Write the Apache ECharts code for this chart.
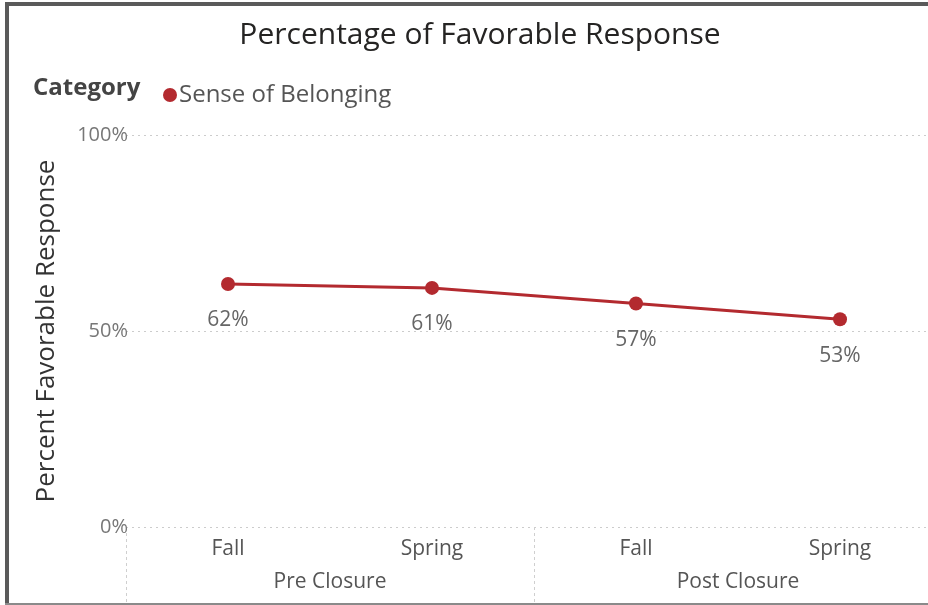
<!DOCTYPE html>
<html><head><meta charset="utf-8">
<script src="https://cdn.jsdelivr.net/npm/echarts@6/dist/echarts.min.js"></script>
<style>html,body{margin:0;padding:0;background:#fff}#c{width:928px;height:605px}</style>
</head><body><div id="c"></div>
<script>
const terms = ['Fall', 'Spring', 'Fall', 'Spring'];
const periods = ['Pre Closure', 'Post Closure'];
const seriesName = 'Sense of Belonging';
const values = [62, 61, 57, 53];
const yMin = 0, yMax = 100, yStep = 50;

const FONT = '"Open Sans", "Noto Sans", sans-serif';
const chart = echarts.init(document.getElementById('c'), null, {renderer: 'canvas'});
const catIds = terms.map((t, i) => String(i));

chart.setOption({
  backgroundColor: '#ffffff',
  animation: false,
  title: {
    text: 'Percentage of Favorable Response',
    left: 475, top: 15, textAlign: 'center',
    textStyle: {fontFamily: FONT, fontSize: 30, fontWeight: 'normal', color: '#252423'}
  },
  legend: {
    left: 158, top: 78, icon: 'circle', itemWidth: 14, itemHeight: 14, itemGap: 10,
    data: [seriesName],
    textStyle: {fontFamily: FONT, fontSize: 24, color: '#555', padding: [0, 0, 0, -3]}
  },
  graphic: [
    {type: 'text', left: 33, top: 76, style: {text: 'Category', font: 'bold 24px ' + FONT, fill: '#444'}},
    {type: 'rect', shape: {x: 5, y: 2, width: 923, height: 4}, style: {fill: '#5a5a5a'}},
    {type: 'rect', shape: {x: 5, y: 2, width: 4, height: 603}, style: {fill: '#5a5a5a'}},
    {type: 'rect', shape: {x: 5, y: 603, width: 923, height: 2}, style: {fill: '#8a8a8a'}}
  ],
  grid: {left: 126, top: 135, width: 816, height: 392, containLabel: false, outerBoundsMode: 'none'},
  xAxis: [
    {
      type: 'category', data: catIds, boundaryGap: true,
      axisLine: {show: false}, axisTick: {show: false},
      axisLabel: {formatter: v => terms[+v], margin: 12, fontFamily: FONT, fontSize: 21, color: '#555'}
    },
    {
      type: 'category', data: periods, position: 'bottom', offset: 0, boundaryGap: true,
      axisLine: {show: false},
      axisTick: {show: true, interval: 0, length: 78, lineStyle: {type: [3, 3], color: '#cfcfcf', width: 1}},
      axisLabel: {margin: 45, fontFamily: FONT, fontSize: 21, color: '#555'}
    }
  ],
  yAxis: {
    type: 'value', min: yMin, max: yMax, interval: yStep,
    name: 'Percent Favorable Response', nameLocation: 'middle', nameGap: 66,
    nameTextStyle: {fontFamily: FONT, fontSize: 26, color: '#333'},
    axisLine: {show: false}, axisTick: {show: false},
    axisLabel: {formatter: '{value}%', margin: -2, fontFamily: FONT, fontSize: 20, color: '#777'},
    splitLine: {show: true, lineStyle: {type: [2, 4], color: '#cccccc', width: 1}}
  },
  series: [{
    name: seriesName, type: 'line', xAxisIndex: 0, data: values,
    symbol: 'circle', symbolSize: 14,
    itemStyle: {color: '#B32A2F'},
    lineStyle: {color: '#B32A2F', width: 3},
    label: {show: true, position: 'bottom', distance: 19, formatter: '{c}%',
      fontFamily: FONT, fontSize: 21, color: '#666'}
  }]
});
</script></body></html>
